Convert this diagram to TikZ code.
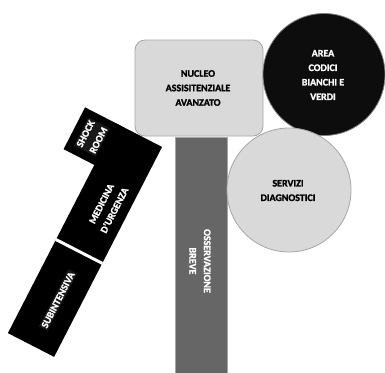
\documentclass[tikz,border=0pt]{standalone}
\usepackage{fontspec}
\setmainfont{Carlito}[BoldFont={Carlito Bold}, BoldFeatures={FakeBold=1.5}]
\usepackage{tikz}
\usetikzlibrary{positioning}

\definecolor{roomgray}{HTML}{D9D9D9}
\definecolor{edgegray}{HTML}{A6A6A6}
\definecolor{bargray}{HTML}{666666}
\definecolor{areablack}{HTML}{0D0D0D}

\begin{document}
\begin{tikzpicture}[
  x=1pt, y=-1pt,
  font=\bfseries\fontsize{10}{14.5}\selectfont,
  room/.style={draw=edgegray, fill=roomgray, line width=0.8pt, align=center, inner sep=0pt},
  ward/.style={fill=black, inner sep=0pt, rotate=62.8},
  label/.style={text=white, align=center, inner sep=1.5pt},
]
  \useasboundingbox (0,0) rectangle (385,372);

  % central block
  \node[room, rounded corners=10pt, minimum width=128pt, minimum height=96pt]
    (nucleo) at (199,88) {};
  \node[draw=edgegray, fill=bargray, line width=0.8pt, minimum width=52pt,
    minimum height=240pt, anchor=north, inner sep=0pt] (obs) at (201,137) {};

  % circles
  \node[circle, draw=gray, fill=areablack, line width=0.8pt, minimum size=122pt,
    inner sep=0pt] (area) at (324,74.5) {};
  \node[room, circle, minimum size=124pt] (servizi) at (289,190) {};

  % emergency wing
  \node[ward, minimum width=105pt, minimum height=52pt] (subint) at (55,298.3) {};
  \node[ward, minimum width=131pt, minimum height=52pt] (medicina) at (109,193.3) {};
  \node[ward, minimum width=47pt, minimum height=40pt] (shock) at (92.1,137.4) {};
  \draw[white, line width=3pt] (subint.north east) -- (subint.south east);

  % texts
  \node[align=center] (nucleotxt) at (198,88) {NUCLEO\\ASSISITENZIALE\\AVANZATO};
  \node[label] (areatxt) at (323,75) {AREA\\CODICI\\BIANCHI E\\VERDI};
  \node[align=center] (servizitxt) at (288,190.5) {SERVIZI\\DIAGNOSTICI};
  \node[label, rotate=-90] (obstxt) at (200,261) {OSSERVAZIONE\\BREVE};
  \node[label, fill=black!90, rotate=62.8] (subinttxt) at (58,300) {SUBINTENSIVA};
  \node[label, rotate=62.8] (medicinatxt) at (108,207) {MEDICINA\\D'URGENZA};
  \node[label, fill=black!90, rotate=62.8] (shocktxt) at (92,137) {SHOCK\\ROOM};
\end{tikzpicture}
\end{document}
